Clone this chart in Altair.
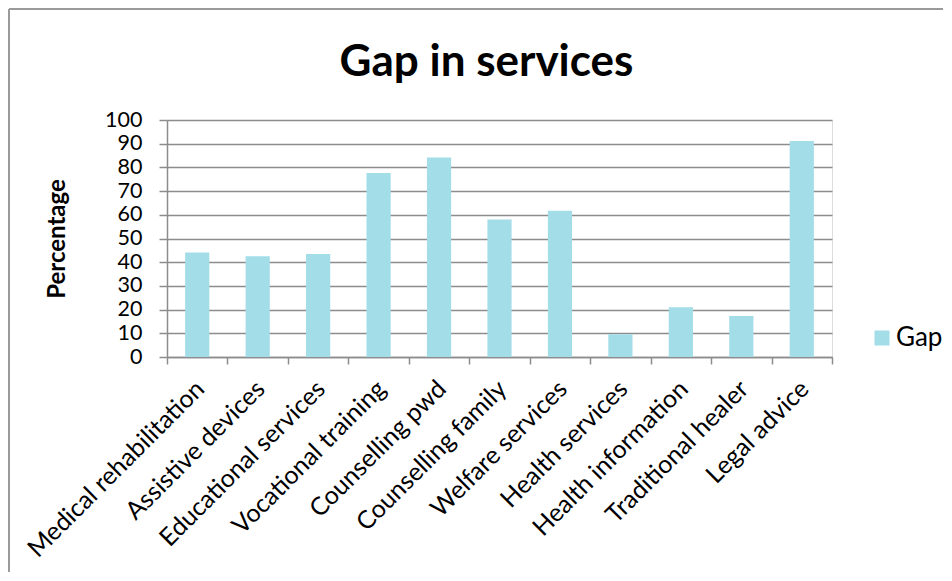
import altair as alt
import pandas as pd

categories = [
    "Medical rehabilitation", "Assistive devices", "Educational services",
    "Vocational training", "Counselling pwd", "Counselling family",
    "Welfare services", "Health services", "Health information",
    "Traditional healer", "Legal advice",
]
values = [44.1, 42.5, 43.5, 77.6, 84.2, 58.0, 61.7, 9.6, 21.0, 17.3, 91.1]
series_name = "Gap"
y_ticks = list(range(0, 101, 10))

df = pd.DataFrame({
    "service": categories,
    "pct": values,
    "series": [series_name] * len(categories),
})

FONT = "Lato"
GRID = "#8c8c8c"
BAR = "#a2dde8"
FRAME = "#9a9a9a"

bars = alt.Chart(df).mark_bar(width=alt.RelativeBandSize(0.4)).encode(
    x=alt.X(
        "service:N", sort=categories, title=None,
        scale=alt.Scale(paddingInner=0, paddingOuter=0),
        axis=alt.Axis(
            labelAngle=-45, labelFontSize=25, labelFont=FONT, labelColor="black",
            tickBand="extent", tickSize=7, tickColor=GRID, tickWidth=1.5,
            domainColor=GRID, domainWidth=1.5, labelPadding=12, labelOffset=-6,
            labelLimit=400, grid=False,
        ),
    ),
    y=alt.Y(
        "pct:Q", title="Percentage",
        scale=alt.Scale(domain=[0, 100], nice=False),
        axis=alt.Axis(
            values=y_ticks, labelFontSize=21.5, labelFont=FONT, labelColor="black",
            labelPadding=17, tickSize=8, tickColor=GRID, tickWidth=1.5,
            domainColor=GRID, domainWidth=1.5, gridColor=GRID, gridWidth=1.5,
            gridOpacity=1, titleFont=FONT, titleFontSize=24, titleFontWeight="bold",
            titleColor="black", titlePadding=35,
        ),
    ),
    color=alt.Color(
        "series:N", scale=alt.Scale(range=[BAR]),
        legend=alt.Legend(
            title=None, orient="none", legendX=702, legendY=205,
            symbolType="square", symbolSize=225, symbolStrokeWidth=0,
            labelFont=FONT, labelFontSize=26, labelColor="black", labelOffset=1,
        ),
    ),
)

# chart-area frame (top and left edges, as in the reference)
frame_src = pd.DataFrame({"edge": ["frame"]})
frame_left = alt.Chart(frame_src).mark_rule(color=FRAME, strokeWidth=2).encode(
    x=alt.value(-158), y=alt.value(-111), y2=alt.value(452)
)
frame_top = alt.Chart(frame_src).mark_rule(color=FRAME, strokeWidth=2).encode(
    x=alt.value(-158), x2=alt.value(776), y=alt.value(-111)
)

chart = alt.layer(bars, frame_left, frame_top).properties(
    width=665, height=237,
    title=alt.TitleParams(
        "Gap in services", font=FONT, fontSize=44, fontWeight="bold",
        color="black", dx=-13, offset=-77,
    ),
    padding={"left": 0, "top": 0, "right": 0, "bottom": 0},
).configure_view(stroke=None).configure(background="white")

chart.save("out.html", embed_options={"renderer": "svg", "actions": False})
